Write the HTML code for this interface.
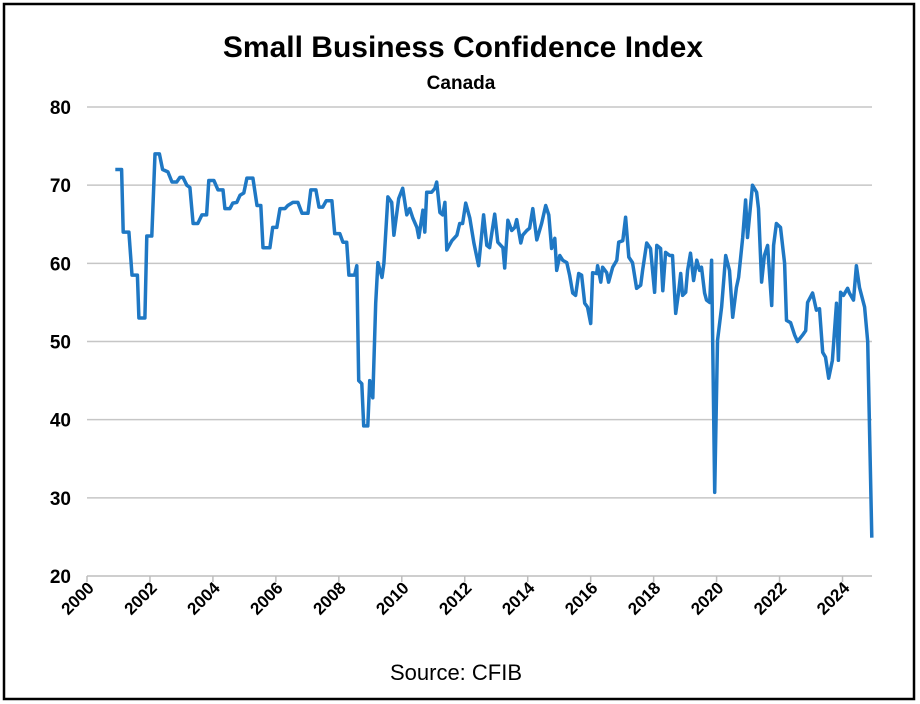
<!DOCTYPE html>
<html><head><meta charset="utf-8"><style>
body{margin:0;background:#fff;}
svg{display:block;font-family:"Liberation Sans",Arial,sans-serif;}
</style></head><body>
<svg id="chart" width="920" height="704" viewBox="0 0 920 704">
<rect x="4" y="4" width="910" height="695" fill="#fff" stroke="#000" stroke-width="2.5"/>
<text x="463" y="57" text-anchor="middle" font-size="30" font-weight="bold">Small Business Confidence Index</text>
<text x="461" y="89" text-anchor="middle" font-size="19" font-weight="bold">Canada</text>
<text x="456" y="680" text-anchor="middle" font-size="22">Source: CFIB</text>
<g id="grid"></g><g id="axes"></g><g id="series"></g>
</svg>
<script>
const yTicks=[20,30,40,50,60,70,80];
const xTicks=[2000,2002,2004,2006,2008,2010,2012,2014,2016,2018,2020,2022,2024];
const dates=[2000.9,2001.1,2001.15,2001.33,2001.43,2001.6,2001.65,2001.84,2001.9,2002.06,2002.16,2002.3,2002.4,2002.57,2002.7,2002.85,2002.95,2003.05,2003.17,2003.27,2003.37,2003.52,2003.65,2003.8,2003.87,2004.03,2004.16,2004.32,2004.38,2004.54,2004.63,2004.76,2004.86,2004.98,2005.08,2005.27,2005.4,2005.52,2005.59,2005.81,2005.9,2006.03,2006.13,2006.29,2006.38,2006.54,2006.7,2006.83,2007.02,2007.11,2007.27,2007.37,2007.49,2007.6,2007.78,2007.87,2008.03,2008.13,2008.25,2008.32,2008.5,2008.57,2008.63,2008.73,2008.79,2008.92,2008.98,2009.08,2009.17,2009.24,2009.37,2009.43,2009.56,2009.68,2009.75,2009.9,2010.03,2010.16,2010.25,2010.35,2010.48,2010.54,2010.67,2010.73,2010.79,2010.95,2011.05,2011.11,2011.21,2011.3,2011.37,2011.43,2011.59,2011.75,2011.84,2011.93,2012.03,2012.16,2012.29,2012.44,2012.6,2012.7,2012.79,2012.95,2013.05,2013.21,2013.27,2013.37,2013.49,2013.59,2013.65,2013.78,2013.84,2013.97,2014.06,2014.16,2014.29,2014.44,2014.57,2014.67,2014.76,2014.86,2014.92,2015.02,2015.11,2015.24,2015.33,2015.43,2015.52,2015.62,2015.71,2015.81,2015.9,2016.0,2016.06,2016.19,2016.22,2016.32,2016.38,2016.51,2016.57,2016.7,2016.83,2016.89,2017.02,2017.11,2017.21,2017.33,2017.46,2017.59,2017.65,2017.78,2017.9,2018.03,2018.1,2018.22,2018.29,2018.38,2018.51,2018.6,2018.7,2018.79,2018.86,2018.92,2019.02,2019.08,2019.17,2019.27,2019.37,2019.46,2019.52,2019.62,2019.68,2019.78,2019.84,2019.94,2020.03,2020.16,2020.29,2020.41,2020.51,2020.63,2020.7,2020.83,2020.92,2020.98,2021.14,2021.27,2021.33,2021.43,2021.52,2021.62,2021.75,2021.81,2021.9,2022.03,2022.16,2022.22,2022.35,2022.48,2022.57,2022.73,2022.83,2022.89,2023.05,2023.17,2023.27,2023.37,2023.46,2023.56,2023.68,2023.81,2023.87,2023.94,2024.03,2024.16,2024.22,2024.35,2024.44,2024.54,2024.7,2024.8,2024.93];
const values=[72,72,64,64,58.5,58.5,53,53,63.5,63.5,74,74,72,71.7,70.4,70.4,71,71,70,69.7,65.1,65.1,66.2,66.2,70.6,70.6,69.4,69.4,67,67,67.7,67.8,68.7,69,70.9,70.9,67.4,67.4,62,62,64.6,64.6,67,67,67.4,67.8,67.8,66.4,66.4,69.4,69.4,67.2,67.2,68,68,63.8,63.8,62.7,62.7,58.5,58.5,59.7,45,44.6,39.2,39.2,45,42.8,54.9,60.1,58.2,60,68.5,67.8,63.6,68.3,69.6,66.2,67,65.8,64.6,63.3,66.8,64,69.1,69.1,69.6,70.4,66.5,66.2,67.8,61.7,62.9,63.6,65.1,65.1,67.7,65.8,62.6,59.7,66.2,62.3,62,66.3,62.7,62,59.4,65.5,64.2,64.6,65.6,62.6,63.6,64.2,64.5,67,63,65.1,67.4,66.2,61.9,63.2,59.1,61,60.4,60.1,58.5,56.2,55.9,58.7,58.5,54.9,54.4,52.3,58.8,58.7,59.7,57.6,59.5,58.8,57.6,59.5,60.4,62.7,62.9,65.9,60.8,60.1,56.8,57.2,59.1,62.6,61.9,56.3,62.3,61.9,56.5,61.4,61,61,53.6,56.2,58.7,55.9,56.3,59.1,61.3,57.8,60.4,59.1,59.5,56.2,55.3,55,60.4,30.7,50.1,54.4,61,59.1,53.1,56.9,58.2,63.3,68.1,63.3,70,69.1,67,57.6,61,62.3,54.6,62.3,65.1,64.6,60,52.7,52.4,50.8,50,50.8,51.4,55,56.2,54,54.2,48.6,48,45.3,47.6,54.9,47.6,56.3,55.9,56.8,56.2,55.3,59.7,56.9,54.4,50,24.9];

const NS='http://www.w3.org/2000/svg';
const X0=87,X1=874,Y0=576,Y1=107;
function xs(d){return X0+(d-2000)/25*(X1-X0);}
function ys(v){return Y0-(v-20)/60*(Y0-Y1);}
function mk(tag,attrs,parent){const e=document.createElementNS(NS,tag);for(const k in attrs)e.setAttribute(k,attrs[k]);parent.appendChild(e);return e;}
const grid=document.getElementById('grid'),axes=document.getElementById('axes'),series=document.getElementById('series');
yTicks.forEach(v=>{
  if(v>20){const l=mk('line',{x1:X0,x2:872,y1:ys(v),y2:ys(v),stroke:'#c6c6c6','stroke-width':1.5},grid);
  
  }
  const t=mk('text',{x:71,y:ys(v)+7,'text-anchor':'end','font-size':19,'font-weight':'bold'},axes);
  t.textContent=v;
  
  
});
const ax=mk('line',{x1:X0,x2:872,y1:Y0,y2:Y0,stroke:'#bdbdbd','stroke-width':1.5},axes);


xTicks.forEach(yr=>{
  const x=xs(yr);
  const tk=mk('line',{x1:x,x2:x,y1:Y0,y2:Y0+6,stroke:'#bdbdbd','stroke-width':1.5},axes);
  
  
  const t=mk('text',{x:x+8,y:Y0+13,'text-anchor':'end','font-size':17,'font-weight':'bold',transform:'rotate(-45 '+(x+8)+' '+(Y0+13)+')'},axes);
  t.textContent=yr;
  
  
});
const n=Math.min(dates.length,values.length);
const pts=dates.slice(0,n).map((d,i)=>xs(d).toFixed(1)+','+ys(values[i]).toFixed(1)).join(' ');
const pl=mk('polyline',{points:pts,fill:'none',stroke:'#1f78c4','stroke-width':3.5,'stroke-linejoin':'round'},series);


</script>
</body></html>
